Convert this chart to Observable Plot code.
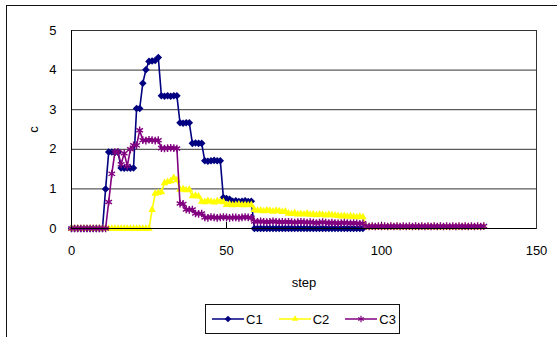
<!DOCTYPE html>
<html>
<head>
<meta charset="utf-8">
<script src="https://cdn.jsdelivr.net/npm/d3@7"></script>
<script src="https://cdn.jsdelivr.net/npm/@observablehq/plot@0.6"></script>
<style>
  html, body { margin: 0; padding: 0; background: #fff; }
  #wrap { position: relative; width: 557px; height: 337px; overflow: hidden; background: #fff; font-family: "Liberation Sans", Arial, sans-serif; }
  #outer { position: absolute; left: 6px; top: 5px; width: 700px; height: 500px; border-left: 1px solid #111; border-top: 1px solid #111; z-index: 2; pointer-events: none; }
  #chart { position: absolute; left: 0; top: 0; z-index: 1; }
  #legend { position: absolute; left: 205px; top: 304px; width: 195px; height: 30px; border: 1px solid #111; box-sizing: border-box; display: flex; align-items: center; padding-left: 6px; font-size: 13px; color: #000; background: #fff; z-index: 3; }
  #legend .item { display: flex; align-items: center; margin-right: 16px; }
  #legend .item span { margin-left: 2px; }
  #legend svg { display: block; }
</style>
</head>
<body>
<div id="wrap">
  <div id="chart"></div>
  <div id="outer"></div>
  <div id="legend"></div>
</div>
<script>
// ---- data ----
const seriesNames = ["C1", "C2", "C3"];
const seriesColors = ["#000080", "#FFFF00", "#800080"];
const xTicks = [0, 50, 100, 150];
const yTicks = [0, 1, 2, 3, 4, 5];

// C1 values at steps 0..94
const c1 = [
  0,0,0,0,0,0,0,0,0,0,0,
  1.0,
  1.93,1.93,1.92,1.93,
  1.53,1.52,1.53,1.52,1.53,
  3.03,3.03,
  3.67,
  4.01,
  4.22,4.23,4.24,
  4.32,
  3.35,3.34,3.35,3.34,3.35,3.35,
  2.67,2.66,2.67,2.67,
  2.15,2.16,2.15,2.15,
  1.71,1.70,1.71,1.72,1.71,1.71,
  0.78,0.76,0.74,
  0.69,0.70,0.68,0.69,0.70,0.68,0.69,
  0,0,0,0,0,0,0,0,0,0,0,0,0,0,0,0,0,0,
  0,0,0,0,0,0,0,0,0,0,0,0,0,0,0,0,0,0
];

// C2 values at steps 0..133
const c2 = [
  0,0,0,0,0,0,0,0,0,0,0,0,0,0,0,0,0,0,0,0,0,0,0,0,0,0,
  0.47,
  0.88,0.90,0.92,
  1.15,1.18,1.20,1.28,1.22,
  0.98,1.00,0.97,0.98,
  0.82,0.83,0.81,
  0.68,0.67,0.70,0.68,0.66,0.69,0.68,0.67,
  0.60,0.61,0.59,0.60,0.61,0.59,0.60,0.59,0.60,
  0.47,0.45,0.46,0.44,0.46,0.45,0.43,0.45,0.44,0.42,0.43,
  0.38,0.37,0.39,0.36,0.37,0.36,0.38,0.35,0.36,0.34,0.36,0.35,0.33,
  0.35,0.34,0.33,0.32,0.31,0.32,0.30,0.31,0.30,0.29,0.30,0.29,
  0.04,0.03,0.04,0.03,0.04,0.03,0.04,0.03,0.04,0.03,0.04,0.03,0.04,
  0.03,0.04,0.03,0.04,0.03,0.04,0.03,0.04,0.03,0.04,0.03,0.04,0.03,
  0.04,0.03,0.04,0.03,0.04,0.03,0.04,0.03,0.04,0.03,0.04,0.03,0.04
];

// C3 values at steps 0..133
const c3 = [
  0,0,0,0,0,0,0,0,0,0,0,0,
  0.67,
  1.38,
  1.93,1.93,
  1.62,1.90,1.58,2.00,
  2.10,2.10,
  2.48,
  2.23,2.22,2.24,2.23,2.22,2.23,
  2.03,2.02,2.03,2.04,2.03,2.02,
  0.63,0.62,
  0.48,0.47,0.48,
  0.38,0.37,0.38,
  0.28,0.27,0.29,0.28,0.27,0.28,0.29,0.28,0.27,0.28,0.28,0.27,0.28,0.29,0.28,0.27,
  0.18,0.17,0.18,0.17,0.16,0.17,0.18,0.17,0.16,0.17,0.16,0.17,0.16,0.15,0.16,0.17,0.16,0.15,
  0.16,0.15,0.14,0.15,0.16,0.15,0.14,0.15,0.14,0.13,0.14,0.15,0.14,0.13,0.14,0.13,0.12,0.13,
  0.06,0.05,0.06,0.05,0.06,0.05,0.06,0.05,0.06,0.05,0.06,0.05,0.06,
  0.05,0.06,0.05,0.06,0.05,0.06,0.05,0.06,0.05,0.06,0.05,0.06,0.05,
  0.06,0.05,0.06,0.05,0.06,0.05,0.06,0.05,0.06,0.05,0.06,0.05,0.06
];

const toRows = (arr) => arr.map((v, i) => ({step: i, c: v}));
const d1 = toRows(c1), d2 = toRows(c2), d3rows = toRows(c3);

const chart = Plot.plot({
  width: 557,
  height: 300,
  marginLeft: 71,
  marginRight: 21,
  marginTop: 30,
  marginBottom: 72,
  style: {fontFamily: "'Liberation Sans', Arial, sans-serif", fontSize: "13px", background: "transparent", color: "#000"},
  x: {domain: [0, 150]},
  y: {domain: [0, 5]},
  marks: [
    Plot.gridY(yTicks.filter(d => d > 0), {stroke: "#333", strokeOpacity: 1}),
    Plot.frame({stroke: "#333"}),
    Plot.ruleX(xTicks.filter(d => d > 0 && d < 150), {y1: 0, y2: 0.16, stroke: "#000"}),
    Plot.axisY(yTicks, {tickSize: 0, tickPadding: 15, label: null}),
    Plot.axisX(xTicks, {tickSize: 0, tickPadding: 17, label: null}),
    Plot.line(d1, {x: "step", y: "c", stroke: seriesColors[0], strokeWidth: 1.6}),
    Plot.dot(d1, {x: "step", y: "c", symbol: "diamond2", fill: seriesColors[0], r: 3.4}),
    Plot.line(d2, {x: "step", y: "c", stroke: seriesColors[1], strokeWidth: 1.6}),
    Plot.dot(d2, {x: "step", y: "c", symbol: "triangle2", fill: seriesColors[1], r: 3.6}),
    Plot.line(d3rows, {x: "step", y: "c", stroke: seriesColors[2], strokeWidth: 1.6}),
    Plot.dot(d3rows, {x: "step", y: "c", symbol: "asterisk", stroke: seriesColors[2], strokeWidth: 1.4, r: 3.6}),
    Plot.ruleX([0], {stroke: "#000"}),
    Plot.ruleY([0], {stroke: "#000"}),
    Plot.text(["c"], {frameAnchor: "left", dx: -38, rotate: -90, textAnchor: "middle", lineAnchor: "middle", fontSize: 13}),
    Plot.text(["step"], {frameAnchor: "bottom", dy: 54, textAnchor: "middle", lineAnchor: "middle", fontSize: 13, letterSpacing: "2px"})
  ]
});
document.getElementById("chart").appendChild(chart);

// ---- legend ----
const symbols = [d3.symbolDiamond2, d3.symbolTriangle2, d3.symbolAsterisk];
const legend = d3.select("#legend");
seriesNames.forEach((name, i) => {
  const item = legend.append("div").attr("class", "item");
  const svg = item.append("svg").attr("width", 32).attr("height", 12);
  svg.append("line").attr("x1", 0).attr("x2", 32).attr("y1", 6).attr("y2", 6)
    .attr("stroke", seriesColors[i]).attr("stroke-width", 1.5);
  const p = svg.append("path").attr("transform", "translate(16,6)")
    .attr("d", d3.symbol(symbols[i], Math.PI * 9)());
  if (i === 2) p.attr("fill", "none").attr("stroke", seriesColors[i]).attr("stroke-width", 1.2);
  else p.attr("fill", seriesColors[i]);
  item.append("span").text(name);
});
</script>
</body>
</html>
